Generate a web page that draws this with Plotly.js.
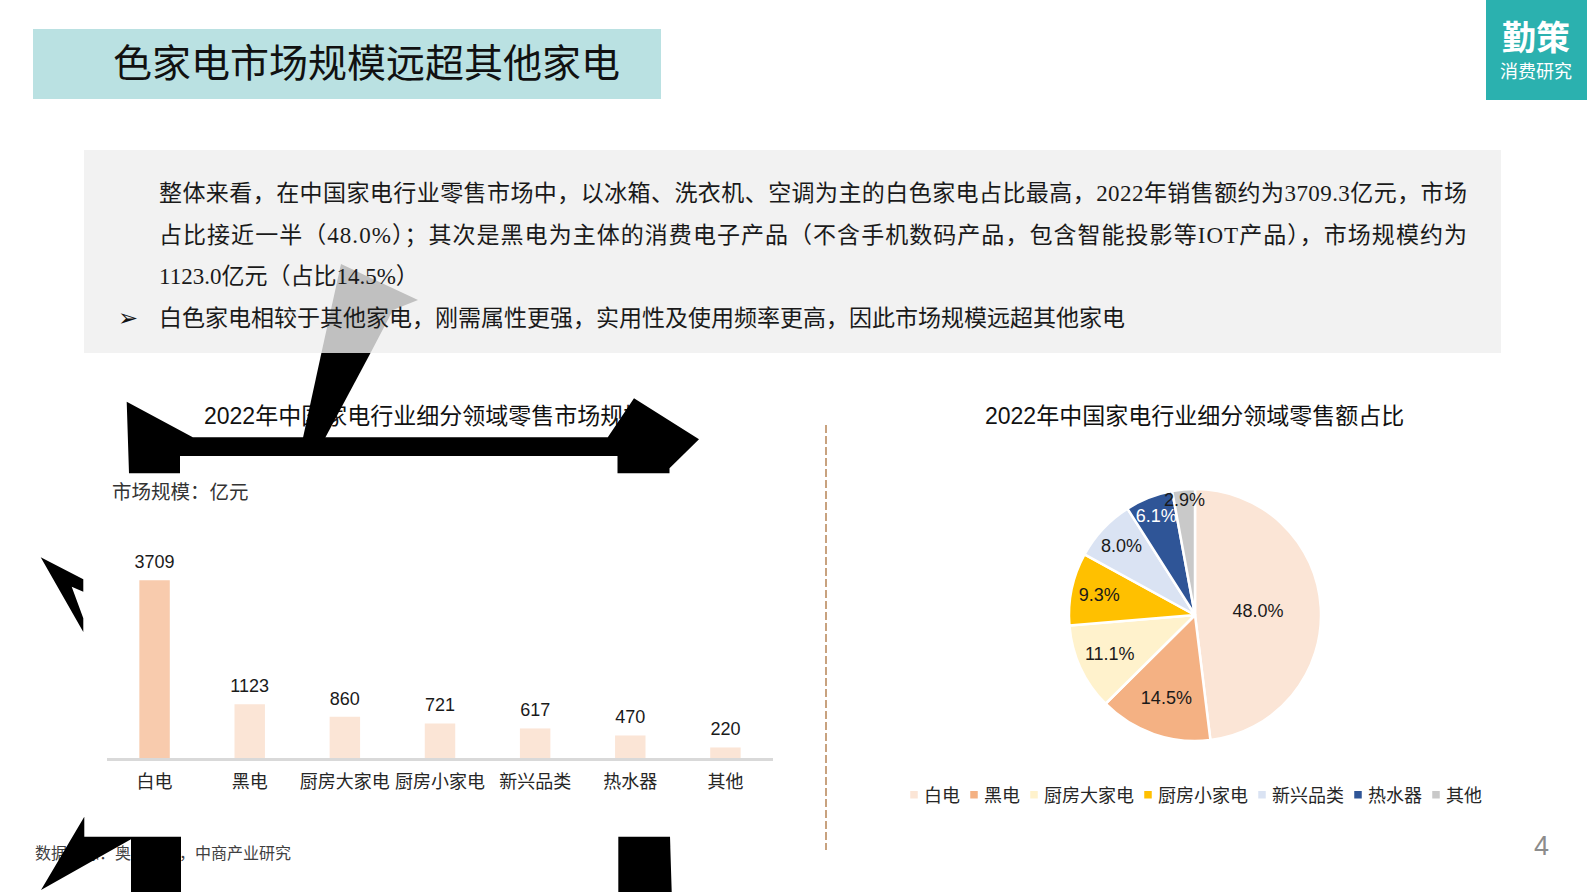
<!DOCTYPE html>
<html>
<head>
<meta charset="utf-8">
<script src="https://cdn.plot.ly/plotly-3.0.1.min.js"></script>
<style>
  html, body { margin: 0; padding: 0; background: #ffffff; }
  #wrap { position: relative; width: 1587px; height: 892px; overflow: hidden; }
  #chart { position: absolute; left: 0; top: 0; width: 1587px; height: 892px; }
  #overlay { position: absolute; left: 0; top: 0; pointer-events: none; }
</style>
</head>
<body>
<div id="wrap">
  <div id="chart"></div>
  <svg id="overlay" width="1587" height="892" viewBox="0 0 1587 892">
    <polygon fill="#000" points="126.7,401.7 192.8,437.3 607.8,437.3 634,398.3 699,439.3 669.5,468.3 669.5,473.3 617.5,473.3 617.5,456 180,456 180,473.3 129,473.3"/>
    <polygon fill="#000" points="321.4,353 370.5,353 324,440 302.5,440"/>
    <polygon fill="#000" points="40.7,557.3 83.3,579.3 83.3,591.7 71.7,586.7 83.3,618.3 83.3,632"/>
    <polygon fill="#000" points="84.3,816.7 84.3,836.7 181,836.7 181,892 131,892 131,839.3 41,890"/>
    <polygon fill="#000" points="618.3,836.7 670,836.7 671.7,892 618.3,892"/>
  </svg>
</div>
<script>
// ---------- data ----------
const categories = ['白电', '黑电', '厨房大家电', '厨房小家电', '新兴品类', '热水器', '其他'];
const salesValues = [3709, 1123, 860, 721, 617, 470, 220];
const sharePct = [48.0, 14.5, 11.1, 9.3, 8.0, 6.1, 2.9];

const pageTitle = '色家电市场规模远超其他家电';
const barTitle = '2022年中国家电行业细分领域零售市场规模';
const pieTitle = '2022年中国家电行业细分领域零售额占比';
const unitLabel = '市场规模：亿元';
const sourceLabel = '数据来源：奥维云网，中商产业研究';
const bodyLines = [
  '整体来看，在中国家电行业零售市场中，以冰箱、洗衣机、空调为主的白色家电占比最高，2022年销售额约为3709.3亿元，市场',
  '占比接近一半（48.0%）；其次是黑电为主体的消费电子产品（不含手机数码产品，包含智能投影等IOT产品），市场规模约为',
  '1123.0亿元（占比14.5%）'
];
const bulletLine = '白色家电相较于其他家电，刚需属性更强，实用性及使用频率更高，因此市场规模远超其他家电';

// ---------- styles ----------
const W = 1587, H = 892;
const px = v => v / W;
const py = v => 1 - v / H;
const SERIF = 'Liberation Serif, "Noto Sans CJK SC", serif';
const SANS = 'Liberation Sans, "Noto Sans CJK SC", sans-serif';
const CJK = '"Noto Sans CJK SC", sans-serif';
const barColors = categories.map((c, i) => i === 0 ? '#F8CBAD' : '#FBE5D6');
const pieColors = ['#FBE5D6', '#F4B183', '#FFF2CC', '#FFC000', '#DAE3F3', '#2F5597', '#C9C9C9'];
const pieTextColors = ['#1a1a1a', '#1a1a1a', '#1a1a1a', '#1a1a1a', '#1a1a1a', '#ffffff', '#1a1a1a'];

const barTrace = {
  type: 'bar',
  x: categories,
  y: salesValues,
  text: salesValues.map(v => String(v)),
  textposition: 'outside',
  cliponaxis: false,
  textfont: { family: SANS, size: 18, color: '#1a1a1a' },
  marker: { color: barColors },
  width: 0.32,
  xaxis: 'x', yaxis: 'y',
  showlegend: false,
  hoverinfo: 'skip'
};

const pieTrace = {
  type: 'pie',
  labels: categories,
  values: sharePct,
  sort: false,
  direction: 'clockwise',
  rotation: 0,
  marker: { colors: pieColors, line: { color: '#ffffff', width: 2.5 } },
  texttemplate: '%{value:.1f}%',
  textposition: 'inside',
  insidetextorientation: 'horizontal',
  textfont: { family: SANS, size: 18, color: pieTextColors },
  domain: { x: [px(1069), px(1321)], y: [py(741), py(489)] },
  showlegend: true,
  hoverinfo: 'skip'
};

const shapes = [
  { type: 'rect', xref: 'paper', yref: 'paper', x0: px(33), x1: px(661), y0: py(99), y1: py(29),
    fillcolor: '#BAE1E2', line: { width: 0 }, layer: 'below' },
  { type: 'rect', xref: 'paper', yref: 'paper', x0: px(1486), x1: px(1587), y0: py(100), y1: py(0),
    fillcolor: '#2BB1AF', line: { width: 0 }, layer: 'below' },
  { type: 'rect', xref: 'paper', yref: 'paper', x0: px(84), x1: px(1501), y0: py(353), y1: py(150),
    fillcolor: '#F2F2F2', line: { width: 0 }, layer: 'below' },
  { type: 'path', xref: 'paper', yref: 'paper', layer: 'below',
    path: `M ${px(341)} ${py(264)} L ${px(418)} ${py(300)} L ${px(393)} ${py(310)} L ${px(370.5)} ${py(353)} L ${px(321.4)} ${py(353)} Z`,
    fillcolor: '#C0C0C0', line: { width: 0 } },
  { type: 'line', xref: 'paper', yref: 'paper', x0: px(826), x1: px(826), y0: py(425), y1: py(850),
    line: { color: '#C8A27F', width: 2, dash: '8px,3px' }, layer: 'below' }
];

const annotations = [
  { text: pageTitle, x: px(111), y: py(60), xanchor: 'left', yanchor: 'middle', align: 'left',
    font: { family: CJK, size: 39, color: '#111111' } },
  { text: '勤策', x: px(1536), y: py(35), xanchor: 'center', yanchor: 'middle',
    font: { family: CJK, size: 34, color: '#ffffff', weight: 700 } },
  { text: '消费研究', x: px(1536), y: py(70), xanchor: 'center', yanchor: 'middle',
    font: { family: CJK, size: 18, color: '#ffffff' } },
  { text: bodyLines[0], x: px(157), y: py(193), xanchor: 'left', yanchor: 'middle', align: 'left',
    font: { family: SERIF, size: 23, color: '#1a1a1a' } },
  { text: bodyLines[1], x: px(157), y: py(235), xanchor: 'left', yanchor: 'middle', align: 'left',
    font: { family: SERIF, size: 23, color: '#1a1a1a' } },
  { text: bodyLines[2], x: px(157), y: py(276), xanchor: 'left', yanchor: 'middle', align: 'left',
    font: { family: SERIF, size: 23, color: '#1a1a1a' } },
  { text: '➢', x: px(128), y: py(318), xanchor: 'center', yanchor: 'middle',
    font: { family: 'DejaVu Sans', size: 24, color: '#111111' } },
  { text: bulletLine, x: px(157), y: py(318), xanchor: 'left', yanchor: 'middle', align: 'left',
    font: { family: SERIF, size: 23, color: '#1a1a1a' } },
  { text: barTitle, x: px(202), y: py(416), xanchor: 'left', yanchor: 'middle', align: 'left',
    font: { family: SANS, size: 23, color: '#111111' } },
  { text: pieTitle, x: px(1194.5), y: py(416), xanchor: 'center', yanchor: 'middle',
    font: { family: SANS, size: 23, color: '#111111' } },
  { text: unitLabel, x: px(110), y: py(492), xanchor: 'left', yanchor: 'middle', align: 'left',
    font: { family: SERIF, size: 19.5, color: '#333333' } },
  { text: sourceLabel, x: px(33), y: py(853), xanchor: 'left', yanchor: 'middle', align: 'left',
    font: { family: SERIF, size: 16, color: '#404040' } },
  { text: '4', x: px(1541), y: py(846), xanchor: 'center', yanchor: 'middle',
    font: { family: SANS, size: 27, color: '#8C8C8C' } }
].map(a => Object.assign({ xref: 'paper', yref: 'paper', showarrow: false }, a));

const layout = {
  width: W, height: H,
  margin: { l: 0, r: 0, t: 0, b: 0, pad: 0 },
  paper_bgcolor: '#ffffff',
  plot_bgcolor: 'rgba(0,0,0,0)',
  xaxis: {
    domain: [px(107), px(773)],
    anchor: 'y',
    type: 'category',
    showline: true, linecolor: '#D9D9D9', linewidth: 3,
    ticks: '', showgrid: false, zeroline: false,
    tickfont: { family: SERIF, size: 18, color: '#262626' },
    ticklabelstandoff: 5,
    fixedrange: true
  },
  yaxis: {
    domain: [py(758), py(528)],
    range: [0, 4800],
    visible: false,
    fixedrange: true
  },
  showlegend: true,
  legend: {
    orientation: 'h',
    x: px(1198), xanchor: 'center',
    y: py(795), yanchor: 'middle',
    font: { family: SERIF, size: 18, color: '#262626' },
    traceorder: 'normal',
    itemclick: false, itemdoubleclick: false,
    bgcolor: 'rgba(0,0,0,0)'
  },
  uniformtext: { mode: 'show', minsize: 18 },
  shapes: shapes,
  annotations: annotations
};

Plotly.newPlot('chart', [barTrace, pieTrace], layout, { displayModeBar: false, staticPlot: true }).then(() => {
  // justify the first two body lines to the panel text width like the original slide
  const targetWidth = 1308;
  document.querySelectorAll('.annotation-text').forEach(t => {
    const s = t.textContent;
    if (s === bodyLines[0] || s === bodyLines[1]) {
      const w = t.getComputedTextLength();
      const n = s.length;
      if (w < targetWidth && n > 1) {
        t.style.letterSpacing = ((targetWidth - w) / (n - 1)).toFixed(3) + 'px';
      }
    }
  });

  // lift bar value labels a little, as in the original
  document.querySelectorAll('.bartext').forEach(t => {
    const tr = t.getAttribute('transform') || '';
    t.setAttribute('transform', 'translate(0,-5) ' + tr);
  });

  // compact legend spacing (small squares close to their labels)
  try {
    const items = Array.from(document.querySelectorAll('.legend .traces'));
    const parsed = items.map(g => {
      const m = /translate\(\s*([-\d.]+)[\s,]+([-\d.]+)\s*\)/.exec(g.getAttribute('transform') || '');
      const txt = g.querySelector('.legendtext');
      return { g, x: m ? +m[1] : 0, y: m ? +m[2] : 0, txt, tw: txt ? txt.getComputedTextLength() : 0 };
    });
    if (parsed.length) {
      const last = parsed[parsed.length - 1];
      const center = (parsed[0].x + last.x + 40 + last.tw) / 2;
      const SYM = 10, GAP1 = 5, GAP2 = 9;
      const total = parsed.reduce((s, p) => s + SYM + GAP1 + p.tw, 0) + GAP2 * (parsed.length - 1);
      let cx = center - total / 2;
      parsed.forEach(p => {
        p.g.setAttribute('transform', `translate(${cx},${p.y})`);
        if (p.txt) p.txt.setAttribute('x', SYM + GAP1);
        const sym = p.g.querySelector('.legendpie');
        if (sym) {
          sym.setAttribute('d', 'M5,5H-5V-5H5Z');
          sym.setAttribute('transform', 'translate(5,0)');
        }
        cx += SYM + GAP1 + p.tw + GAP2;
      });
    }
  } catch (e) { /* keep default legend */ }
});
</script>
</body>
</html>
